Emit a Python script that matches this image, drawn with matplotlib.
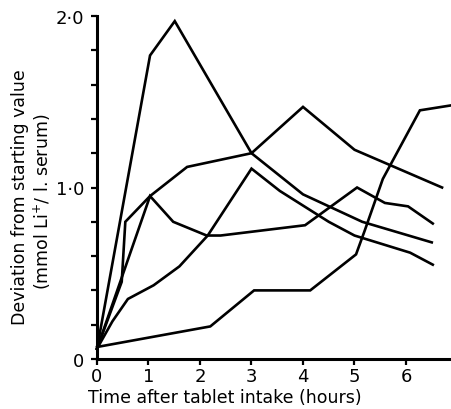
import matplotlib.pyplot as plt

# time (hours) / deviation (mmol Li+/l serum) for each of the five subjects
t_a = [0, 1.03, 1.51, 3.0, 4.0, 5.15, 6.5]
v_a = [0.06, 1.77, 1.97, 1.20, 0.96, 0.80, 0.68]

t_b = [0, 0.48, 0.55, 1.03, 1.75, 3.0, 4.0, 5.0, 6.7]
v_b = [0.06, 0.45, 0.80, 0.95, 1.12, 1.20, 1.47, 1.22, 1.00]

t_c = [0, 0.3, 0.6, 1.1, 1.6, 2.15, 3.0, 3.55, 4.5, 5.0, 6.08, 6.52]
v_c = [0.06, 0.22, 0.35, 0.43, 0.54, 0.72, 1.11, 0.98, 0.80, 0.72, 0.62, 0.55]

t_d = [0, 1.03, 1.48, 2.13, 2.4, 4.04, 5.05, 5.59, 6.04, 6.52]
v_d = [0.06, 0.95, 0.80, 0.72, 0.72, 0.78, 1.00, 0.91, 0.89, 0.79]

t_e = [0, 2.2, 3.05, 4.14, 5.03, 5.2, 5.55, 6.27, 6.9]
v_e = [0.07, 0.19, 0.40, 0.40, 0.61, 0.75, 1.05, 1.45, 1.48]

series = [(t_a, v_a), (t_b, v_b), (t_c, v_c), (t_d, v_d), (t_e, v_e)]

x_ticks = [0, 1, 2, 3, 4, 5, 6]
y_ticks = [0, 0.2, 0.4, 0.6, 0.8, 1.0, 1.2, 1.4, 1.6, 1.8, 2.0]
y_labels = ["0", "", "", "", "", "1·0", "", "", "", "", "2·0"]

fig = plt.figure(figsize=(4.52, 4.10), dpi=100)
ax = fig.add_axes([97 / 452, 50 / 410, 355 / 452, 343 / 410])

for t, v in series:
    ax.plot(t, v, color="black", lw=1.9, solid_joinstyle="miter", clip_on=False)

ax.set_xlim(0, 355 / 51.5)
ax.set_ylim(0, 2.0)
ax.set_xticks(x_ticks)
ax.set_yticks(y_ticks)
ax.set_yticklabels(y_labels)

for s in ["top", "right"]:
    ax.spines[s].set_visible(False)
for s in ["left", "bottom"]:
    ax.spines[s].set_linewidth(2.2)

ax.tick_params(axis="both", direction="out", length=4, width=1.6, labelsize=13, pad=2)
ax.tick_params(axis="y", pad=5)

fig.text(225 / 452, 1 - 398 / 410, "Time after tablet intake (hours)",
         ha="center", va="center", fontsize=12.5)
fig.text(20 / 452, 1 - 197 / 410, "Deviation from starting value",
         rotation=90, ha="center", va="center", fontsize=12.5)
fig.text(42 / 452, 1 - 202 / 410, "(mmol Li$^{+}$/ l. serum)",
         rotation=90, ha="center", va="center", fontsize=12.5)

fig.savefig("out.png", dpi=100)
